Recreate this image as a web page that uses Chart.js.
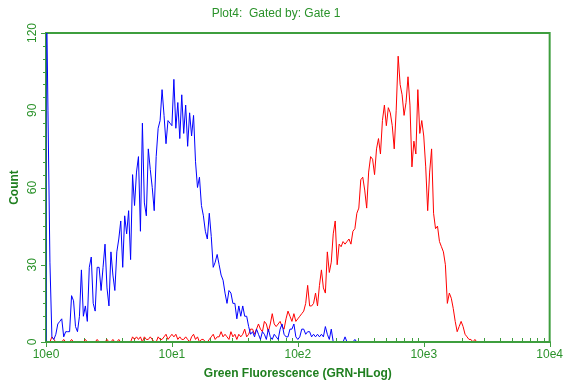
<!DOCTYPE html>
<html>
<head>
<meta charset="utf-8">
<script src="https://cdn.jsdelivr.net/npm/chart.js@4.4.0/dist/chart.umd.min.js"></script>
<style>
  html, body { margin: 0; padding: 0; background: #fff; }
  #wrap { width: 568px; height: 384px; }
</style>
</head>
<body>
<div id="wrap"><canvas id="histChart" width="568" height="384"></canvas></div>
<script>
// Histogram counts per channel (64 channels per decade, channel 0 = 10e0)
const blueCounts = [
  150, 90, 31, 2, 1, 3, 7, 8, 9, 2,
  4, 4, 4, 18, 16, 6, 4, 10, 28, 10,
  14, 8, 29, 33, 15, 12, 29, 29, 20, 29,
  38, 21, 14, 35, 26, 20, 35, 40, 47, 29,
  49, 42, 51, 32, 65, 53, 66, 72, 43, 85,
  54, 49, 75, 67, 60, 51, 72, 83, 86, 98,
  88, 77, 86, 85, 84, 102, 83, 93, 79, 96,
  81, 92, 76, 89, 80, 88, 70, 60, 64, 53,
  49, 43, 40, 50, 41, 29, 31, 34, 30, 26,
  24, 19, 15, 20, 19, 15, 15, 9, 14, 10,
  14, 10, 10, 6, 3, 4, 2, 5, 3, 1,
  4, 3, 1, 5, 2, 1, 3, 2, 1, 5,
  7, 3, 2, 2, 5, 5, 7, 2, 1, 2,
  5, 5, 3, 4, 4, 2, 3, 2, 3, 2,
  3, 2, 6, 3, 1, 5, 0, 0, 0, 0,
  0, 0, 2, 0, 0, 0, 0, 1, 0
];
const redCounts = [
  0, 0, 0, 2, 1, 0, 0, 0, 0, 1,
  0, 0, 0, 1, 0, 0, 0, 0, 0, 0,
  1, 0, 0, 0, 0, 0, 1, 0, 0, 0,
  0, 1, 0, 0, 1, 0, 0, 1, 0, 0,
  0, 0, 0, 0, 2, 1, 2, 1, 2, 0,
  2, 1, 1, 2, 1, 0, 0, 2, 1, 1,
  2, 3, 1, 2, 3, 2, 3, 1, 2, 1,
  1, 2, 1, 0, 2, 3, 1, 2, 0, 1,
  1, 0, 0, 1, 2, 3, 1, 2, 2, 4,
  2, 3, 2, 1, 4, 2, 3, 1, 3, 2,
  3, 5, 2, 3, 5, 5, 3, 5, 7, 5,
  4, 8, 7, 4, 7, 11, 7, 6, 7, 8,
  6, 5, 9, 12, 10, 8, 11, 8, 9, 10,
  11, 12, 15, 22, 14, 14, 15, 19, 14, 22,
  28, 21, 19, 35, 27, 31, 42, 47, 30, 38,
  37, 39, 38, 39, 40, 38, 43, 44, 50, 52,
  63, 64, 59, 52, 66, 72, 71, 65, 75, 79,
  73, 86, 92, 84, 91, 89, 84, 75, 90, 111,
  100, 96, 88, 93, 103, 92, 68, 78, 73, 98,
  81, 86, 80, 68, 51, 66, 75, 50, 44, 45,
  39, 37, 35, 30, 15, 19, 17, 13, 8, 4,
  6, 8, 6, 3, 2, 1, 1, 0, 1, 0
];

// Axis labels
const decadeLabels = ['10e0', '10e1', '10e2', '10e3', '10e4'];
const countTicks = [0, 30, 60, 90, 120];
const channelsPerDecade = 64;

const chartTitle = 'Plot4:  Gated by: Gate 1';
const xTitle = 'Green Fluorescence (GRN-HLog)';
const yTitle = 'Count';

const textGreen = '#2a922a';
const titleGreen = '#1f7f1f';
const frameGreen = '#3e9e3e';
const fontFamily = '"Liberation Sans", Arial, sans-serif';

// the trace starts on the baseline, like the cytometer's histogram polyline
function toPoints(counts) {
    return [{ x: 0, y: 0 }].concat(counts.map((v, i) => ({ x: i, y: v })));
}

// frame, tick marks, rotated count labels and the plot title
const cytoDecor = {
    id: 'cytoDecor',
    beforeDatasetsDraw(chart) {
        const { ctx, chartArea: a, scales: { x, y } } = chart;
        ctx.save();
        ctx.strokeStyle = frameGreen;
        ctx.lineWidth = 2;
        ctx.strokeRect(a.left, a.top, a.right - a.left, a.bottom - a.top);

        ctx.lineWidth = 1;
        ctx.beginPath();
        for (let v = 0; v <= 120; v += 5) {
            const py = Math.round(y.getPixelForValue(v)) + 0.5;
            const len = countTicks.includes(v) ? 5 : 3;
            ctx.moveTo(a.left - len, py);
            ctx.lineTo(a.left, py);
        }
        for (let d = 0; d < decadeLabels.length; d++) {
            const px = Math.round(x.getPixelForValue(d * channelsPerDecade)) + 0.5;
            ctx.moveTo(px, a.bottom);
            ctx.lineTo(px, a.bottom + 5);
            if (d === decadeLabels.length - 1) break;
            for (let k = 2; k <= 9; k++) {
                const mx = Math.round(x.getPixelForValue((d + Math.log10(k)) * channelsPerDecade)) + 0.5;
                ctx.moveTo(mx, a.bottom);
                ctx.lineTo(mx, a.bottom - 4);
            }
        }
        ctx.stroke();

        ctx.fillStyle = textGreen;
        ctx.font = '12px ' + fontFamily;
        ctx.textAlign = 'center';
        ctx.textBaseline = 'middle';
        countTicks.forEach(v => {
            ctx.save();
            ctx.translate(a.left - 13, y.getPixelForValue(v));
            ctx.rotate(-Math.PI / 2);
            ctx.fillText(String(v), 0, 0);
            ctx.restore();
        });
        ctx.restore();
    },
    afterDatasetsDraw(chart) {
        // bottom axis sits over the zero counts
        const { ctx, chartArea: a } = chart;
        ctx.save();
        ctx.strokeStyle = frameGreen;
        ctx.lineWidth = 2;
        ctx.beginPath();
        ctx.moveTo(a.left, a.bottom);
        ctx.lineTo(a.right + 1, a.bottom);
        ctx.stroke();
        ctx.restore();
    },
    afterDraw(chart) {
        const ctx = chart.ctx;
        ctx.save();
        ctx.fillStyle = textGreen;
        ctx.font = '12px ' + fontFamily;
        ctx.textAlign = 'center';
        ctx.textBaseline = 'middle';
        ctx.fillText(chartTitle, 276, 14);
        ctx.restore();
    }
};

const histChart = new Chart(document.getElementById('histChart'), {
    type: 'line',
    data: {
        datasets: [
            { label: 'blue', data: toPoints(blueCounts), borderColor: '#0000ff' },
            { label: 'red', data: toPoints(redCounts), borderColor: '#ff0000' }
        ]
    },
    options: {
        responsive: false,
        animation: false,
        events: [],
        layout: { padding: { top: 33, right: 17, left: 0, bottom: 0 } },
        elements: {
            point: { radius: 0 },
            line: { borderWidth: 1, tension: 0 }
        },
        plugins: {
            legend: { display: false },
            title: { display: false },
            tooltip: { enabled: false }
        },
        scales: {
            x: {
                type: 'linear',
                min: 0,
                max: decadeLabels.length * channelsPerDecade - channelsPerDecade,
                afterBuildTicks: scale => {
                    scale.ticks = decadeLabels.map((_, i) => ({ value: i * channelsPerDecade }));
                },
                ticks: {
                    callback: v => decadeLabels[v / channelsPerDecade],
                    color: textGreen,
                    font: { family: fontFamily, size: 12 },
                    padding: 5,
                    maxRotation: 0,
                    autoSkip: false
                },
                grid: { display: false, drawTicks: false },
                border: { display: false },
                title: {
                    display: true,
                    text: xTitle,
                    color: titleGreen,
                    font: { family: fontFamily, size: 12, weight: 'bold' },
                    padding: { top: 0, bottom: 3 }
                },
                afterFit: scale => { scale.height = 42; }
            },
            y: {
                min: 0,
                max: 120,
                ticks: { stepSize: 30, display: false },
                grid: { display: false, drawTicks: false },
                border: { display: false },
                title: {
                    display: true,
                    text: yTitle,
                    color: titleGreen,
                    font: { family: fontFamily, size: 12, weight: 'bold' },
                    padding: { top: 7, bottom: 0 }
                },
                afterFit: scale => { scale.width = 46; }
            }
        }
    },
    plugins: [cytoDecor]
});
</script>
</body>
</html>
